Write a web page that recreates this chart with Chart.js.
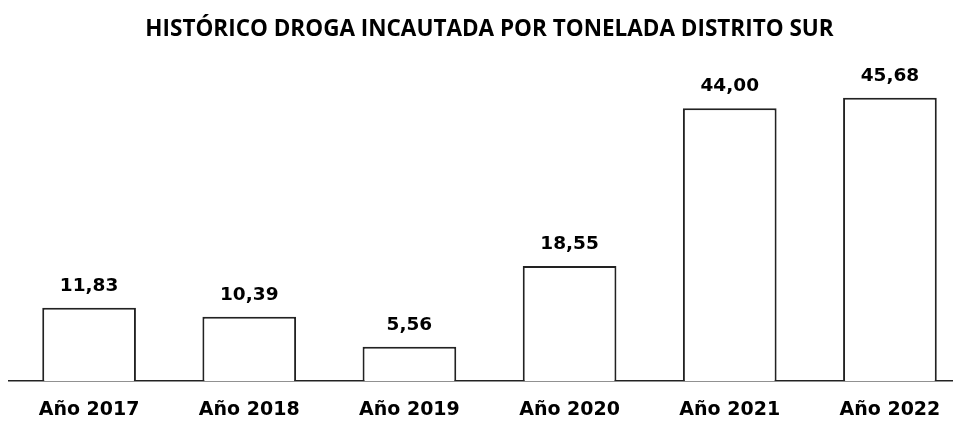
<!DOCTYPE html>
<html>
<head>
<meta charset="utf-8">
<script src="https://cdn.jsdelivr.net/npm/chart.js@4/dist/chart.umd.min.js"></script>
<style>
html,body{margin:0;padding:0;background:#fff;overflow:hidden;width:953px;height:421px;}
canvas{display:block;}
</style>
</head>
<body>
<canvas id="c" width="970" height="421"></canvas>
<script>
const titleText = "HISTÓRICO DROGA INCAUTADA POR TONELADA DISTRITO SUR";
const categories = ["Año 2017", "Año 2018", "Año 2019", "Año 2020", "Año 2021", "Año 2022"];
const values = [11.83, 10.39, 5.56, 18.55, 44.00, 45.68];
const valueLabels = ["11,83", "10,39", "5,56", "18,55", "44,00", "45,68"];

const labelPlugin = {
  id: 'barLabels',
  afterDatasetsDraw(chart) {
    const ctx = chart.ctx;
    const meta = chart.getDatasetMeta(0);
    ctx.save();
    ctx.font = 'bold 18.5px "DejaVu Sans"';
    ctx.fillStyle = '#000';
    ctx.textAlign = 'center';
    ctx.textBaseline = 'alphabetic';
    meta.data.forEach((bar, i) => {
      ctx.fillText(valueLabels[i], bar.x, bar.y - 17);
    });
    ctx.restore();
  }
};

new Chart(document.getElementById('c'), {
  type: 'bar',
  data: {
    labels: categories,
    datasets: [{
      data: values,
      backgroundColor: '#ffffff',
      borderColor: '#222222',
      borderWidth: 2,
      borderSkipped: 'bottom',
      categoryPercentage: 1,
      barPercentage: 0.585
    }]
  },
  options: {
    responsive: false,
    animation: false,
    devicePixelRatio: 1,
    layout: { padding: { left: 9, right: 0, top: 0, bottom: -17 } },
    plugins: {
      legend: { display: false },
      tooltip: { enabled: false },
      title: {
        display: true,
        text: titleText,
        color: '#000',
        font: { family: '"Open Sans"', size: 22.5, weight: 'bold' },
        padding: { top: 16, bottom: 28 }
      }
    },
    scales: {
      x: {
        grid: { display: false, drawTicks: false },
        border: { display: true, color: '#222222', width: 1.5 },
        ticks: {
          color: '#000',
          padding: 17,
          font: { family: '"DejaVu Sans"', size: 19, weight: 'bold' }
        }
      },
      y: {
        display: false,
        min: 0,
        max: 50
      }
    }
  },
  plugins: [labelPlugin]
});
</script>
</body>
</html>
